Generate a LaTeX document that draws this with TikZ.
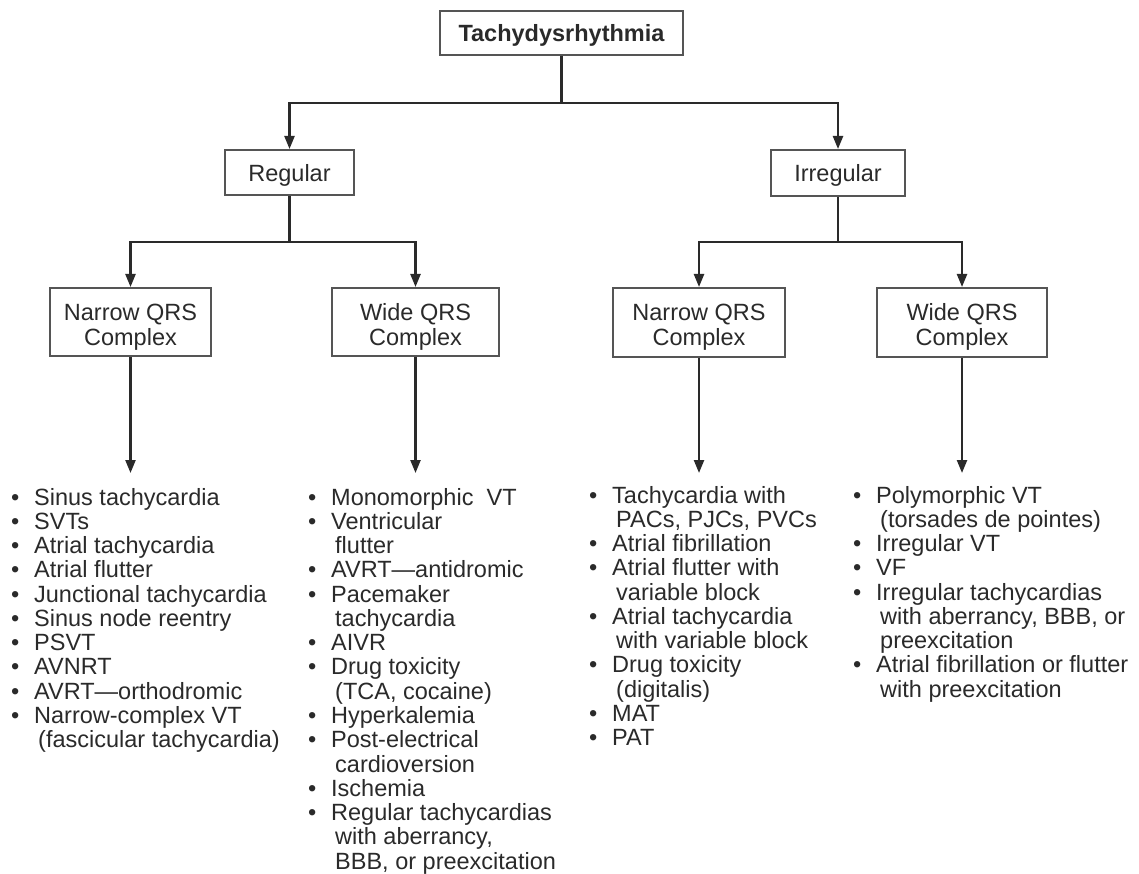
\documentclass[tikz,border=0pt]{standalone}
\usepackage{fontspec}
\setmainfont{Liberation Sans}
\usetikzlibrary{arrows.meta}
\definecolor{ink}{HTML}{2A2A2A}
\definecolor{frame}{HTML}{555555}
\newcommand{\bul}{\makebox[23pt][l]{\textbullet}}
\newcommand{\ind}{\hspace*{27pt}}
\begin{document}
\begin{tikzpicture}[x=1pt,y=-1pt,
  box/.style={draw=frame, line width=2pt, inner sep=0pt, align=center, text=ink,
    font=\fontsize{23.5}{25}\selectfont},
  one/.style={text height=18pt, text depth=0pt},
  two/.style={text height=46pt, text depth=0pt},
  conn/.style={draw=ink, line width=2.3pt},
  arr/.style={conn, -{Triangle[length=13pt,width=10pt]}},
  lst/.style={anchor=base west, inner sep=0pt, text=ink, font=\fontsize{23.5}{24.2}\selectfont}]
\useasboundingbox (0,0) rectangle (1139,874);

% boxes
\node[box, one, minimum width=243, minimum height=44, font=\fontsize{23.5}{25}\selectfont\bfseries] (top) at (561.5,33) {Tachydysrhythmia};
\node[box, one, minimum width=129, minimum height=45] (reg) at (289.5,172.5) {Regular};
\node[box, one, minimum width=134, minimum height=46] (irr) at (838,173) {Irregular};
\node[box, two, minimum width=161, minimum height=68] (n1) at (130.5,322) {Narrow QRS\\Complex};
\node[box, two, minimum width=167, minimum height=68] (w1) at (415.5,322) {Wide QRS\\Complex};
\node[box, two, minimum width=172, minimum height=69] (n2) at (699,322.5) {Narrow QRS\\Complex};
\node[box, two, minimum width=170, minimum height=69] (w2) at (962,322.5) {Wide QRS\\Complex};

% junctions
\coordinate (j0) at (561.5,103);
\coordinate (j1) at (289.5,242);
\coordinate (j2) at (838,242);

\draw[conn] (top.south) -- (j0);
\draw[arr] (j0) -| (reg.north);
\draw[arr] (j0) -| (irr.north);
\draw[conn] (reg.south) -- (j1);
\draw[arr] (j1) -| (n1.north);
\draw[arr] (j1) -| (w1.north);
\draw[conn] (irr.south) -- (j2);
\draw[arr] (j2) -| (n2.north);
\draw[arr] (j2) -| (w2.north);

% arrow ends toward lists
\path (n1.south) ++(0,116) coordinate (e1);
\path (w1.south) ++(0,116) coordinate (e2);
\path (n2.south) ++(0,115) coordinate (e3);
\path (w2.south) ++(0,115) coordinate (e4);
\draw[arr] (n1.south) -- (e1);
\draw[arr] (w1.south) -- (e2);
\draw[arr] (n2.south) -- (e3);
\draw[arr] (w2.south) -- (e4);

% lists
\node[lst] (L1) at (11,505) {\begin{tabular}[t]{@{}l@{}}
\bul Sinus tachycardia\\
\bul SVTs\\
\bul Atrial tachycardia\\
\bul Atrial flutter\\
\bul Junctional tachycardia\\
\bul Sinus node reentry\\
\bul PSVT\\
\bul AVNRT\\
\bul AVRT—orthodromic\\
\bul Narrow-complex VT\\
\ind(fascicular tachycardia)
\end{tabular}};

\node[lst] (L2) at (308,505) {\begin{tabular}[t]{@{}l@{}}
\bul Monomorphic~ VT\\
\bul Ventricular\\
\ind flutter\\
\bul AVRT—antidromic\\
\bul Pacemaker\\
\ind tachycardia\\
\bul AIVR\\
\bul Drug toxicity\\
\ind (TCA, cocaine)\\
\bul Hyperkalemia\\
\bul Post-electrical\\
\ind cardioversion\\
\bul Ischemia\\
\bul Regular tachycardias\\
\ind with aberrancy,\\
\ind BBB, or preexcitation
\end{tabular}};

\node[lst] (L3) at (589,503) {\begin{tabular}[t]{@{}l@{}}
\bul Tachycardia with\\
\ind PACs, PJCs, PVCs\\
\bul Atrial fibrillation\\
\bul Atrial flutter with\\
\ind variable block\\
\bul Atrial tachycardia\\
\ind with variable block\\
\bul Drug toxicity\\
\ind (digitalis)\\
\bul MAT\\
\bul PAT
\end{tabular}};

\node[lst] (L4) at (853,503) {\begin{tabular}[t]{@{}l@{}}
\bul Polymorphic VT\\
\ind (torsades de pointes)\\
\bul Irregular VT\\
\bul VF\\
\bul Irregular tachycardias\\
\ind with aberrancy, BBB, or\\
\ind preexcitation\\
\bul Atrial fibrillation or flutter\\
\ind with preexcitation
\end{tabular}};
\end{tikzpicture}
\end{document}
